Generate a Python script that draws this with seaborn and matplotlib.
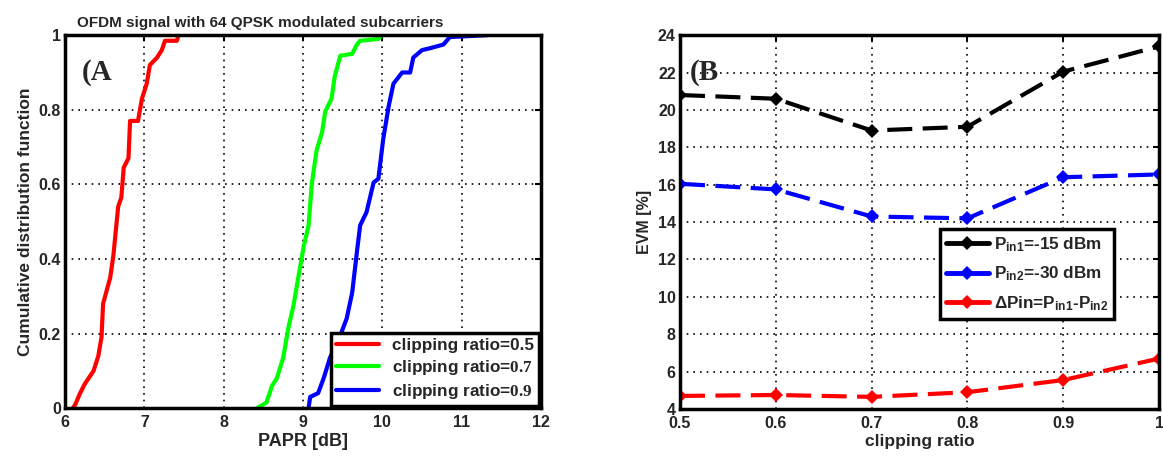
import numpy as np
import pandas as pd
import matplotlib
matplotlib.use("Agg")
import matplotlib.pyplot as plt
import seaborn as sns

# ---- Data (panel A: empirical CDF of PAPR) ----
red_x = [6.10, 6.13, 6.19, 6.25, 6.36, 6.42, 6.46, 6.48, 6.57, 6.61, 6.67, 6.71, 6.74, 6.80, 6.82, 6.92, 6.97, 7.03, 7.07, 7.16, 7.22, 7.26, 7.41, 7.43]
red_y = [0.0, 0.01, 0.04, 0.065, 0.10, 0.14, 0.19, 0.28, 0.35, 0.41, 0.54, 0.565, 0.645, 0.67, 0.77, 0.77, 0.83, 0.87, 0.92, 0.94, 0.96, 0.985, 0.985, 1.0]
green_x = [8.42, 8.54, 8.61, 8.67, 8.75, 8.82, 8.88, 8.94, 9.01, 9.07, 9.11, 9.17, 9.24, 9.28, 9.36, 9.40, 9.47, 9.62, 9.68, 9.72, 9.95, 9.99]
green_y = [0.0, 0.015, 0.06, 0.08, 0.135, 0.22, 0.275, 0.35, 0.435, 0.49, 0.60, 0.69, 0.74, 0.795, 0.83, 0.89, 0.945, 0.95, 0.975, 0.985, 0.99, 1.0]
blue_x = [9.07, 9.09, 9.19, 9.26, 9.34, 9.47, 9.55, 9.62, 9.68, 9.72, 9.80, 9.89, 9.95, 10.01, 10.08, 10.14, 10.25, 10.35, 10.39, 10.50, 10.60, 10.77, 10.85, 11.32]
blue_y = [0.0, 0.03, 0.04, 0.08, 0.135, 0.195, 0.24, 0.31, 0.42, 0.49, 0.525, 0.605, 0.615, 0.72, 0.81, 0.87, 0.90, 0.90, 0.94, 0.96, 0.965, 0.975, 0.995, 1.0]

# ---- Data (panel B: EVM vs clipping ratio) ----
clip_ratio = [0.5, 0.6, 0.7, 0.8, 0.9, 1.0]
evm_pin1 = [20.8, 20.6, 18.9, 19.1, 22.05, 23.4]
evm_pin2 = [16.05, 15.75, 14.3, 14.2, 16.4, 16.55]
evm_delta = [4.7, 4.75, 4.65, 4.9, 5.55, 6.7]

sns.set_theme(style="white")
plt.rcParams.update({
    "font.family": ["Liberation Sans", "DejaVu Sans"],
    "font.weight": "bold",
    "axes.labelweight": "bold",
    "axes.titleweight": "bold",
    "mathtext.fontset": "custom",
    "mathtext.rm": "Liberation Serif",
    "mathtext.bf": "Liberation Sans:bold",
    "mathtext.it": "Liberation Sans:bold",
    "xtick.direction": "in",
    "ytick.direction": "in",
})

fig = plt.figure(figsize=(11.63, 4.57), dpi=100)
axA = fig.add_axes([0.0559, 0.107, 0.4093, 0.816])
axB = fig.add_axes([0.5847, 0.105, 0.4119, 0.818])

dfA = pd.concat([
    pd.DataFrame({"x": red_x, "y": red_y, "s": "clipping ratio=0.5"}),
    pd.DataFrame({"x": green_x, "y": green_y, "s": r"clipping ratio=$\mathrm{0.7}$"}),
    pd.DataFrame({"x": blue_x, "y": blue_y, "s": r"clipping ratio=$\mathrm{0.9}$"}),
])
sns.lineplot(data=dfA, x="x", y="y", hue="s", palette=["#ff0000", "#00ff00", "#0000ff"],
             sort=False, estimator=None, linewidth=3, ax=axA)

axA.set_xlim(6, 12)
axA.set_ylim(0, 1)
axA.set_xticks([6, 7, 8, 9, 10, 11, 12])
axA.set_yticks([0, 0.2, 0.4, 0.6, 0.8, 1])
axA.set_yticklabels(["0", "0.2", "0.4", "0.6", "0.8", "1"])
axA.set_xlabel("PAPR [dB]", fontsize=13, labelpad=2)
axA.set_ylabel("Cumulative distribution function", fontsize=12.5, labelpad=4)
axA.set_title("OFDM signal with 64 QPSK modulated subcarriers", fontsize=11, pad=6, x=0.41)
axA.text(0.035, 0.9, "(A", transform=axA.transAxes, fontsize=21, fontweight="bold",
         family="Liberation Serif", va="center")
legA = axA.legend(loc="lower right", frameon=True, fancybox=False,
                  borderpad=0.3, handlelength=2.5, labelspacing=0.3,
                  borderaxespad=0.1, prop={"size": 12.3, "weight": "bold"})
legA.get_frame().set_edgecolor("black")
legA.get_frame().set_linewidth(2.5)
legA.get_frame().set_alpha(1)

dfB = pd.concat([
    pd.DataFrame({"x": clip_ratio, "y": evm_pin1, "s": r"$\mathbf{P_{in1}}$=-15 dBm"}),
    pd.DataFrame({"x": clip_ratio, "y": evm_pin2, "s": r"$\mathbf{P_{in2}}$=-30 dBm"}),
    pd.DataFrame({"x": clip_ratio, "y": evm_delta, "s": r"ΔPin=$\mathbf{P_{in1}}$-$\mathbf{P_{in2}}$"}),
])
sns.lineplot(data=dfB, x="x", y="y", hue="s", palette=["#000000", "#0000ff", "#ff0000"],
             marker="D", markersize=7, markeredgewidth=0, linewidth=3,
             sort=False, estimator=None, ax=axB)
for ln in axB.get_lines():
    ln.set_dashes([6, 2.5])
axB.set_xlim(0.5, 1.0)
axB.set_ylim(4, 24)
axB.set_xticks([0.5, 0.6, 0.7, 0.8, 0.9, 1.0])
axB.set_xticklabels(["0.5", "0.6", "0.7", "0.8", "0.9", "1"])
axB.set_yticks(range(4, 25, 2))
axB.set_xlabel("clipping ratio", fontsize=12.5, labelpad=2)
axB.set_ylabel("EVM [%]", fontsize=11.5, labelpad=4)
axB.text(0.02, 0.9, "(B", transform=axB.transAxes, fontsize=21, fontweight="bold",
         family="Liberation Serif", va="center")
legB = axB.legend(loc="upper left", bbox_to_anchor=(0.543, 0.482),
                  frameon=True, fancybox=False, borderpad=0.35, handlelength=2.5,
                  labelspacing=0.65, borderaxespad=0.0, handletextpad=0.3,
                  prop={"size": 12.3, "weight": "bold"})
for h in legB.get_lines():
    h.set_dashes([])
    h.set_linestyle("-")
    h.set_linewidth(3.5)
legB.get_frame().set_edgecolor("black")
legB.get_frame().set_linewidth(2.5)
legB.get_frame().set_alpha(1)

for ax in (axA, axB):
    ax.grid(True, linestyle=(0, (1, 3)), color="black", linewidth=1.2)
    for sp in ax.spines.values():
        sp.set_color("black")
        sp.set_linewidth(2.5)
    ax.tick_params(axis="both", labelsize=11.5, length=4, width=1.5, color="black",
                   top=True, right=True)
    ax.tick_params(axis="x", pad=5)
    ax.tick_params(axis="y", pad=3)
    for lab in ax.get_xticklabels() + ax.get_yticklabels():
        lab.set_fontweight("bold")
    ax.set_facecolor("white")

fig.savefig("out.png", dpi=100, facecolor="white")
